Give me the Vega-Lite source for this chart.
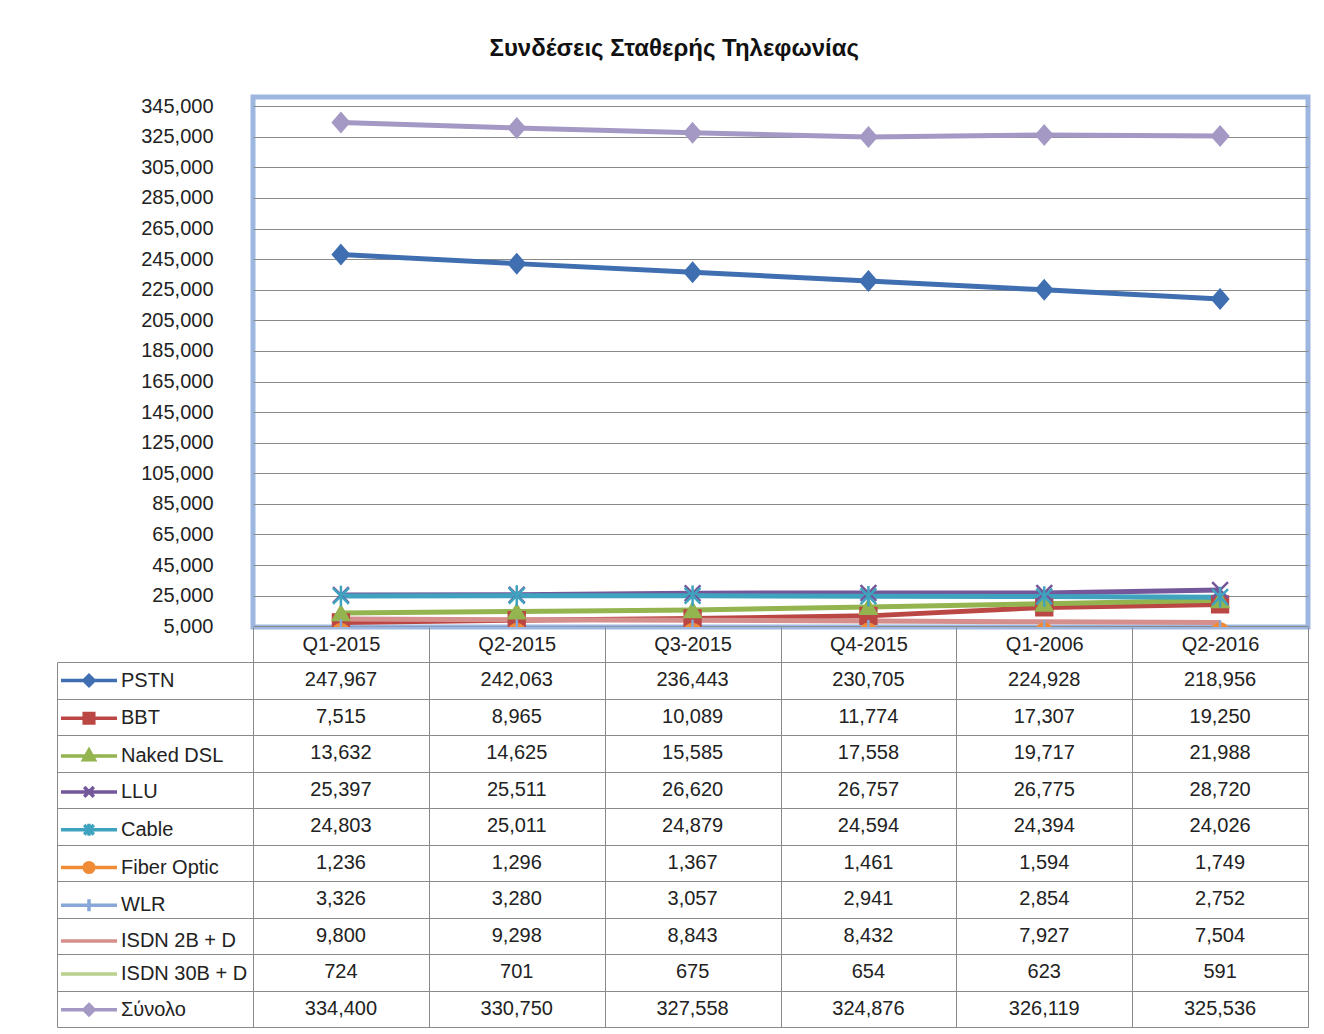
{
  "$schema": "https://vega.github.io/schema/vega-lite/v6.json",
  "padding": {"left": 56, "top": 36, "right": 14, "bottom": 5},
  "background": "white",
  "title": {
    "text": "Συνδέσεις Σταθερής Τηλεφωνίας",
    "font": "Liberation Sans",
    "fontSize": 24,
    "fontWeight": "bold",
    "color": "#111111",
    "anchor": "middle",
    "frame": "bounds",
    "offset": 33,
    "dx": -9
  },
  "datasets": {
    "d": [
      {"q": "Q1-2015", "s": "PSTN", "v": 247967},
      {"q": "Q2-2015", "s": "PSTN", "v": 242063},
      {"q": "Q3-2015", "s": "PSTN", "v": 236443},
      {"q": "Q4-2015", "s": "PSTN", "v": 230705},
      {"q": "Q1-2006", "s": "PSTN", "v": 224928},
      {"q": "Q2-2016", "s": "PSTN", "v": 218956},
      {"q": "Q1-2015", "s": "BBT", "v": 7515},
      {"q": "Q2-2015", "s": "BBT", "v": 8965},
      {"q": "Q3-2015", "s": "BBT", "v": 10089},
      {"q": "Q4-2015", "s": "BBT", "v": 11774},
      {"q": "Q1-2006", "s": "BBT", "v": 17307},
      {"q": "Q2-2016", "s": "BBT", "v": 19250},
      {"q": "Q1-2015", "s": "Naked DSL", "v": 13632},
      {"q": "Q2-2015", "s": "Naked DSL", "v": 14625},
      {"q": "Q3-2015", "s": "Naked DSL", "v": 15585},
      {"q": "Q4-2015", "s": "Naked DSL", "v": 17558},
      {"q": "Q1-2006", "s": "Naked DSL", "v": 19717},
      {"q": "Q2-2016", "s": "Naked DSL", "v": 21988},
      {"q": "Q1-2015", "s": "LLU", "v": 25397},
      {"q": "Q2-2015", "s": "LLU", "v": 25511},
      {"q": "Q3-2015", "s": "LLU", "v": 26620},
      {"q": "Q4-2015", "s": "LLU", "v": 26757},
      {"q": "Q1-2006", "s": "LLU", "v": 26775},
      {"q": "Q2-2016", "s": "LLU", "v": 28720},
      {"q": "Q1-2015", "s": "Cable", "v": 24803},
      {"q": "Q2-2015", "s": "Cable", "v": 25011},
      {"q": "Q3-2015", "s": "Cable", "v": 24879},
      {"q": "Q4-2015", "s": "Cable", "v": 24594},
      {"q": "Q1-2006", "s": "Cable", "v": 24394},
      {"q": "Q2-2016", "s": "Cable", "v": 24026},
      {"q": "Q1-2015", "s": "Fiber Optic", "v": 1236},
      {"q": "Q2-2015", "s": "Fiber Optic", "v": 1296},
      {"q": "Q3-2015", "s": "Fiber Optic", "v": 1367},
      {"q": "Q4-2015", "s": "Fiber Optic", "v": 1461},
      {"q": "Q1-2006", "s": "Fiber Optic", "v": 1594},
      {"q": "Q2-2016", "s": "Fiber Optic", "v": 1749},
      {"q": "Q1-2015", "s": "WLR", "v": 3326},
      {"q": "Q2-2015", "s": "WLR", "v": 3280},
      {"q": "Q3-2015", "s": "WLR", "v": 3057},
      {"q": "Q4-2015", "s": "WLR", "v": 2941},
      {"q": "Q1-2006", "s": "WLR", "v": 2854},
      {"q": "Q2-2016", "s": "WLR", "v": 2752},
      {"q": "Q1-2015", "s": "ISDN 2B + D", "v": 9800},
      {"q": "Q2-2015", "s": "ISDN 2B + D", "v": 9298},
      {"q": "Q3-2015", "s": "ISDN 2B + D", "v": 8843},
      {"q": "Q4-2015", "s": "ISDN 2B + D", "v": 8432},
      {"q": "Q1-2006", "s": "ISDN 2B + D", "v": 7927},
      {"q": "Q2-2016", "s": "ISDN 2B + D", "v": 7504},
      {"q": "Q1-2015", "s": "ISDN 30B + D", "v": 724},
      {"q": "Q2-2015", "s": "ISDN 30B + D", "v": 701},
      {"q": "Q3-2015", "s": "ISDN 30B + D", "v": 675},
      {"q": "Q4-2015", "s": "ISDN 30B + D", "v": 654},
      {"q": "Q1-2006", "s": "ISDN 30B + D", "v": 623},
      {"q": "Q2-2016", "s": "ISDN 30B + D", "v": 591},
      {"q": "Q1-2015", "s": "Σύνολο", "v": 334400},
      {"q": "Q2-2015", "s": "Σύνολο", "v": 330750},
      {"q": "Q3-2015", "s": "Σύνολο", "v": 327558},
      {"q": "Q4-2015", "s": "Σύνολο", "v": 324876},
      {"q": "Q1-2006", "s": "Σύνολο", "v": 326119},
      {"q": "Q2-2016", "s": "Σύνολο", "v": 325536}
    ]
  },
  "data": {"name": "d"},
  "spacing": 35,
  "bounds": "flush",
  "vconcat": [
    {
      "width": 1055,
      "height": 530,
      "view": {"stroke": "#9db7e0", "strokeWidth": 5, "fill": "white"},
      "encoding": {
        "x": {"field": "q", "type": "ordinal", "sort": ["Q1-2015", "Q2-2015", "Q3-2015", "Q4-2015", "Q1-2006", "Q2-2016"], "scale": {"type": "point", "padding": 0.5}, "axis": null},
        "y": {
          "field": "v", "type": "quantitative",
          "scale": {"domain": [4500, 351000], "nice": false, "zero": false},
          "axis": {
            "values": [5000, 25000, 45000, 65000, 85000, 105000, 125000, 145000, 165000, 185000, 205000, 225000, 245000, 265000, 285000, 305000, 325000, 345000],
            "format": ",.0f",
            "labelOverlap": false,
            "grid": true, "gridColor": "#8a8a8a", "gridWidth": 1,
            "domain": false, "ticks": false,
            "labelPadding": 40,
            "labelFont": "Liberation Sans", "labelFontSize": 20, "labelColor": "#222222",
            "title": null
          }
        }
      },
      "layer": [
        {
          "mark": {"type": "line", "strokeWidth": 5, "clip": true},
          "encoding": {
            "color": {
              "field": "s", "type": "nominal",
              "scale": {
                "domain": ["PSTN", "BBT", "Naked DSL", "LLU", "Cable", "Fiber Optic", "WLR", "ISDN 2B + D", "ISDN 30B + D", "Σύνολο"],
                "range": ["#3f6fb0", "#bb4744", "#94b44f", "#74579a", "#3fa3bf", "#f08b37", "#88a6d8", "#d58f8d", "#b9d08e", "#a498c4"]
              },
              "legend": null
            }
          }
        },
        {
          "transform": [{"filter": "datum.s != 'ISDN 2B + D' && datum.s != 'ISDN 30B + D'"}],
          "mark": {"type": "point", "filled": true, "size": 250, "strokeWidth": 2.5, "opacity": 1, "clip": true},
          "encoding": {
            "shape": {
              "field": "s", "type": "nominal",
              "scale": {
                "domain": ["PSTN", "BBT", "Naked DSL", "LLU", "Cable", "Fiber Optic", "WLR", "ISDN 2B + D", "ISDN 30B + D", "Σύνολο"],
                "range": ["M0,-1.15L1,0L0,1.15L-1,0Z", "square", "triangle-up", "M-1,-1L1,1M-1,1L1,-1", "M-1,-1L1,1M-1,1L1,-1M0,-1.3L0,1.3", "circle", "M-1.2,0L1.2,0M0,-1.2L0,1.2", "circle", "circle", "M0,-1.15L1,0L0,1.15L-1,0Z"]
              },
              "legend": null
            },
            "fill": {
              "field": "s", "type": "nominal",
              "scale": {
                "domain": ["PSTN", "BBT", "Naked DSL", "LLU", "Cable", "Fiber Optic", "WLR", "ISDN 2B + D", "ISDN 30B + D", "Σύνολο"],
                "range": ["#3f6fb0", "#bb4744", "#94b44f", "#74579a", "#3fa3bf", "#f08b37", "#88a6d8", "#d58f8d", "#b9d08e", "#a498c4"]
              },
              "legend": null
            },
            "stroke": {
              "field": "s", "type": "nominal",
              "scale": {
                "domain": ["PSTN", "BBT", "Naked DSL", "LLU", "Cable", "Fiber Optic", "WLR", "ISDN 2B + D", "ISDN 30B + D", "Σύνολο"],
                "range": ["#3f6fb0", "#bb4744", "#94b44f", "#74579a", "#3fa3bf", "#f08b37", "#88a6d8", "#d58f8d", "#b9d08e", "#a498c4"]
              },
              "legend": null
            }
          }
        }
      ]
    },
    {
      "width": 1055,
      "height": 365,
      "view": {"stroke": "#8a8a8a", "strokeWidth": 1},
      "encoding": {
        "x": {
          "field": "q", "type": "ordinal", "sort": ["Q1-2015", "Q2-2015", "Q3-2015", "Q4-2015", "Q1-2006", "Q2-2016"],
          "scale": {"type": "band", "paddingInner": 0, "paddingOuter": 0},
          "axis": {
            "orient": "top", "tickBand": "extent", "tickSize": 35, "tickColor": "#8a8a8a", "tickWidth": 1,
            "grid": true, "gridColor": "#8a8a8a", "gridWidth": 1,
            "domain": true, "domainColor": "#8a8a8a", "domainWidth": 1,
            "labelPadding": -17.5, "labelBaseline": "middle", "labelAngle": 0,
            "labelFont": "Liberation Sans", "labelFontSize": 20, "labelColor": "#222222",
            "title": null
          }
        },
        "y": {
          "field": "s", "type": "nominal", "sort": ["PSTN", "BBT", "Naked DSL", "LLU", "Cable", "Fiber Optic", "WLR", "ISDN 2B + D", "ISDN 30B + D", "Σύνολο"],
          "scale": {"type": "band", "paddingInner": 0, "paddingOuter": 0},
          "axis": {
            "orient": "left", "offset": 196, "tickSize": -196, "tickBand": "extent", "tickColor": "#8a8a8a", "tickWidth": 1,
            "labels": false,
            "domain": true, "domainColor": "#8a8a8a", "domainWidth": 1,
            "grid": true, "gridColor": "#8a8a8a", "gridWidth": 1,
            "title": null
          }
        }
      },
      "layer": [
        {
          "mark": {"type": "text", "font": "Liberation Sans", "fontSize": 20, "color": "#222222"},
          "encoding": {
            "text": {"field": "v", "type": "quantitative", "format": ","}
          }
        },
        {
          "mark": {"type": "point", "filled": true, "opacity": 0},
          "encoding": {
            "shape": {
              "field": "s", "type": "nominal",
              "scale": {
                "domain": ["PSTN", "BBT", "Naked DSL", "LLU", "Cable", "Fiber Optic", "WLR", "ISDN 2B + D", "ISDN 30B + D", "Σύνολο"],
                "range": [
                  "M-4.67,0L4.67,0M0,-0.85L0.85,0L0,0.85L-0.85,0Z",
                  "M-4.67,0L4.67,0M-0.8,-0.8L0.8,-0.8L0.8,0.8L-0.8,0.8Z",
                  "M-4.67,0L4.67,0M0,-1L0.9,0.6L-0.9,0.6Z",
                  "M-4.67,0L4.67,0M-0.8,-0.8L0.8,0.8M-0.8,0.8L0.8,-0.8",
                  "M-4.67,0L4.67,0M-0.8,-0.8L0.8,0.8M-0.8,0.8L0.8,-0.8M0,-1L0,1",
                  "M-4.67,0L4.67,0M0.8,0A0.8,0.8 0 1,1 -0.8,0A0.8,0.8 0 1,1 0.8,0Z",
                  "M-4.67,0L4.67,0M0,-1L0,1",
                  "M-4.67,0L4.67,0",
                  "M-4.67,0L4.67,0",
                  "M-4.67,0L4.67,0M0,-0.85L0.85,0L0,0.85L-0.85,0Z"
                ]
              },
              "legend": {
                "orient": "none", "legendX": -174, "legendY": 8.5, "title": null,
                "symbolSize": 144, "symbolStrokeWidth": 3.5, "symbolOpacity": 1,
                "labelFont": "Liberation Sans", "labelFontSize": 20, "labelColor": "#222222", "labelBaseline": "middle",
                "labelOffset": 22, "rowPadding": 12.8, "padding": 0, "labelLimit": 200
              }
            },
            "fill": {
              "field": "s", "type": "nominal",
              "scale": {
                "domain": ["PSTN", "BBT", "Naked DSL", "LLU", "Cable", "Fiber Optic", "WLR", "ISDN 2B + D", "ISDN 30B + D", "Σύνολο"],
                "range": ["#3f6fb0", "#bb4744", "#94b44f", "#74579a", "#3fa3bf", "#f08b37", "#88a6d8", "#d58f8d", "#b9d08e", "#a498c4"]
              },
              "legend": {
                "orient": "none", "legendX": -174, "legendY": 8.5, "title": null,
                "symbolSize": 144, "symbolStrokeWidth": 3.5, "symbolOpacity": 1,
                "labelFont": "Liberation Sans", "labelFontSize": 20, "labelColor": "#222222", "labelBaseline": "middle",
                "labelOffset": 22, "rowPadding": 12.8, "padding": 0, "labelLimit": 200
              }
            },
            "stroke": {
              "field": "s", "type": "nominal",
              "scale": {
                "domain": ["PSTN", "BBT", "Naked DSL", "LLU", "Cable", "Fiber Optic", "WLR", "ISDN 2B + D", "ISDN 30B + D", "Σύνολο"],
                "range": ["#3f6fb0", "#bb4744", "#94b44f", "#74579a", "#3fa3bf", "#f08b37", "#88a6d8", "#d58f8d", "#b9d08e", "#a498c4"]
              },
              "legend": {
                "orient": "none", "legendX": -174, "legendY": 8.5, "title": null,
                "symbolSize": 144, "symbolStrokeWidth": 3.5, "symbolOpacity": 1,
                "labelFont": "Liberation Sans", "labelFontSize": 20, "labelColor": "#222222", "labelBaseline": "middle",
                "labelOffset": 22, "rowPadding": 12.8, "padding": 0, "labelLimit": 200
              }
            }
          }
        }
      ]
    }
  ],
  "resolve": {
    "scale": {"x": "independent", "y": "independent", "color": "independent", "shape": "independent", "fill": "independent", "stroke": "independent"},
    "axis": {"x": "independent", "y": "independent"},
    "legend": {"color": "independent", "shape": "independent", "fill": "independent", "stroke": "independent"}
  },
  "config": {
    "font": "Liberation Sans",
    "axis": {"labelFont": "Liberation Sans"},
    "legend": {"labelFont": "Liberation Sans"}
  }
}
